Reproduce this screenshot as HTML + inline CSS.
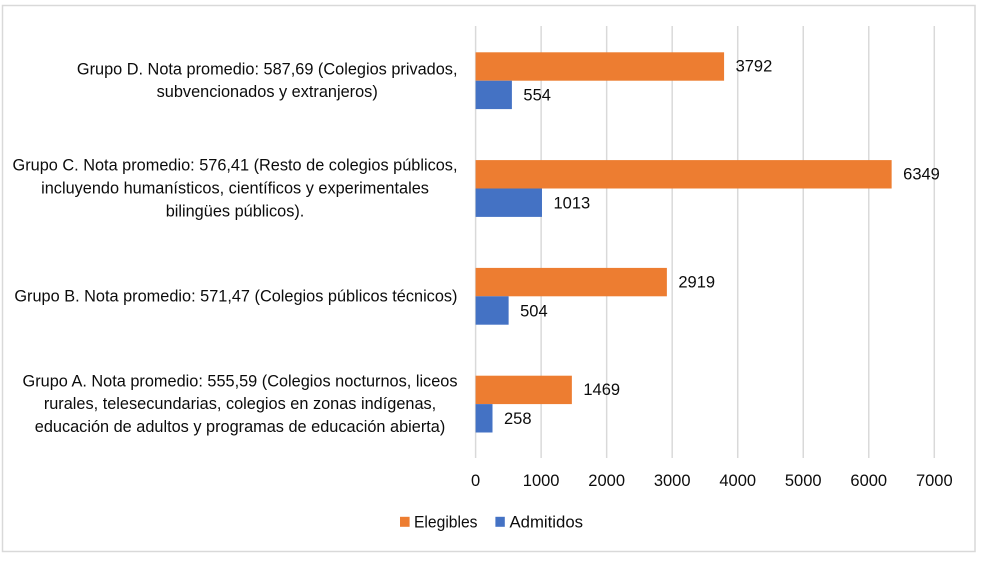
<!DOCTYPE html>
<html lang="es">
<head>
<meta charset="utf-8">
<title>Elegibles y admitidos por grupo</title>
<style>
  html, body { margin: 0; padding: 0; background: #ffffff; }
  body { width: 982px; height: 562px; overflow: hidden; }
  svg { display: block; }
  text { font-family: "Liberation Sans", sans-serif; font-size: 16.5px; fill: #0c0c0c; }
</style>
</head>
<body>
<svg id="chart" width="982" height="562" viewBox="0 0 982 562" xmlns="http://www.w3.org/2000/svg">
  <rect x="0" y="0" width="982" height="562" fill="#ffffff"/>
  <rect x="2.5" y="5.5" width="972.5" height="546" fill="#ffffff" stroke="#d9d9d9" stroke-width="1.5"/>
  <g id="grid"></g>
  <g id="bars"></g>
  <g id="values"></g>
  <g id="cats"></g>
  <g id="ticks"></g>
  <g>
    <g>
      <rect x="400" y="516.8" width="9.6" height="10" fill="#ed7d31"/>
      <text x="414" y="527.5" textLength="63.5" lengthAdjust="spacingAndGlyphs">Elegibles</text>
    </g>
    <g>
      <rect x="495.4" y="516.8" width="9.4" height="10" fill="#4472c4"/>
      <text x="509.5" y="527.5" textLength="73.5" lengthAdjust="spacingAndGlyphs">Admitidos</text>
    </g>
  </g>
</svg>
<script>
// Chart data, listed top to bottom as drawn
const categories = [
  ["Grupo D. Nota promedio: 587,69 (Colegios privados,", "subvencionados y extranjeros)"],
  ["Grupo C. Nota promedio: 576,41 (Resto de colegios públicos,", "incluyendo humanísticos, científicos y experimentales", "bilingües públicos)."],
  ["Grupo B. Nota promedio: 571,47 (Colegios públicos técnicos)"],
  ["Grupo A. Nota promedio: 555,59 (Colegios nocturnos, liceos", "rurales, telesecundarias, colegios en zonas indígenas,", "educación de adultos y programas de educación abierta)"]
];
const elegibles = [3792, 6349, 2919, 1469];
const admitidos = [554, 1013, 504, 258];
const xTicks = [0, 1000, 2000, 3000, 4000, 5000, 6000, 7000];

// Axis functions
const NS = "http://www.w3.org/2000/svg";
const plotLeft = 475.6, plotRight = 934.3, plotTop = 26, plotBottom = 458;
const xMax = 7000;
const xScale = v => plotLeft + (v / xMax) * (plotRight - plotLeft);
const bandTop = 26.8;
const bandHeight = 107.8;
const bandCenter = i => bandTop + bandHeight * (i + 0.5);
const barHeight = 28.4;
const lineHeight = 22.8;
const labelRight = 457.5;
const widthFactor = 0.988;

function make(tag, attrs, parent, content) {
  const el = document.createElementNS(NS, tag);
  for (const k in attrs) el.setAttribute(k, attrs[k]);
  if (content !== undefined) el.textContent = content;
  parent.appendChild(el);
  return el;
}

const gridG = document.getElementById("grid");
const barsG = document.getElementById("bars");
const valuesG = document.getElementById("values");
const catsG = document.getElementById("cats");
const ticksG = document.getElementById("ticks");

xTicks.forEach(t => {
  const line = make("line", { x1: xScale(t), x2: xScale(t), y1: plotTop, y2: plotBottom, stroke: "#d9d9d9", "stroke-width": 1.5 }, gridG);
  
  
  const label = make("text", { x: xScale(t), y: 486, "text-anchor": "middle" }, ticksG, String(t));
  
  
});

categories.forEach((lines, i) => {
  const c = bandCenter(i);

  const orange = make("rect", { x: xScale(0), y: c - barHeight, width: xScale(elegibles[i]) - xScale(0), height: barHeight, fill: "#ed7d31" }, barsG);
  
  
  const blue = make("rect", { x: xScale(0), y: c, width: xScale(admitidos[i]) - xScale(0), height: barHeight, fill: "#4472c4" }, barsG);
  
  

  const v1 = make("text", { x: xScale(elegibles[i]) + 11.5, y: c - barHeight / 2 + 5.2 }, valuesG, String(elegibles[i]));
  
  
  const v2 = make("text", { x: xScale(admitidos[i]) + 11.5, y: c + barHeight / 2 + 5.8 }, valuesG, String(admitidos[i]));
  
  

  // Centre the wrapped lines on each other, right-aligned as a block
  const startY = c - (lines.length - 1) * lineHeight / 2 + 5;
  const nodes = lines.map((s, j) => {
    const line = make("text", { x: 0, y: startY + j * lineHeight, "text-anchor": "middle" }, catsG, s);
    
    
    return line;
  });
  const widths = nodes.map(n => n.getComputedTextLength() * widthFactor);
  const maxW = Math.max(...widths);
  nodes.forEach((n, j) => {
    n.setAttribute("x", labelRight - maxW / 2);
    n.setAttribute("textLength", widths[j]);
    n.setAttribute("lengthAdjust", "spacingAndGlyphs");
  });
});
</script>
</body>
</html>
